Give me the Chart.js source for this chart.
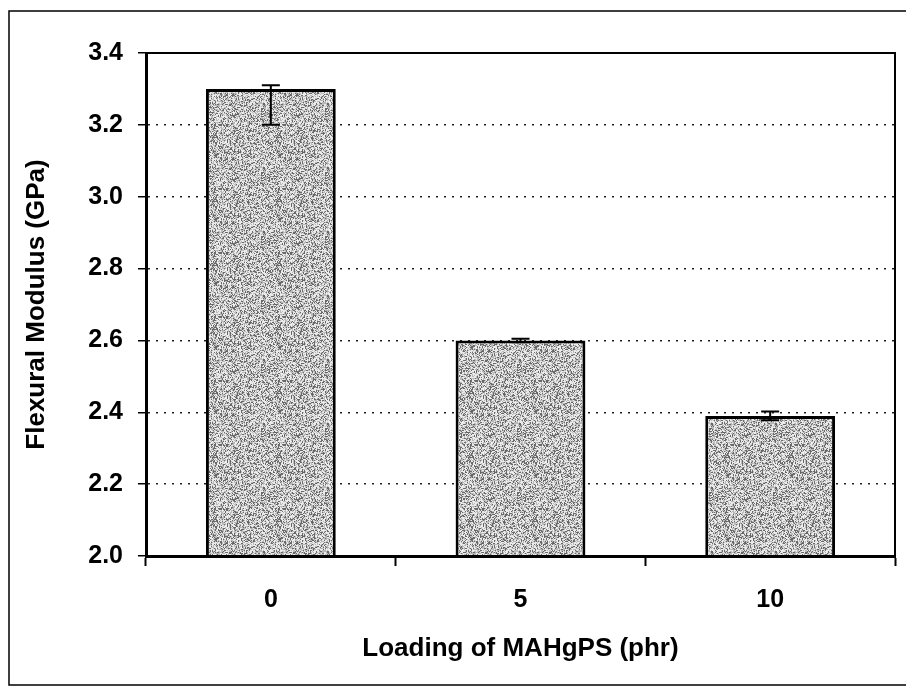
<!DOCTYPE html>
<html>
<head>
<meta charset="utf-8">
<script src="https://cdn.jsdelivr.net/npm/chart.js@4.4.1/dist/chart.umd.min.js"></script>
<style>
  html, body { margin: 0; padding: 0; background: #fff; }
  #wrap { width: 906px; height: 688px; }
</style>
</head>
<body>
<div id="wrap"><canvas id="modulus"></canvas></div>
<script>
// data
var loadings = ['0', '5', '10'];
var modulus = [3.30, 2.60, 2.39];
var errLow = [3.20, 2.595, 2.378];
var errHigh = [3.31, 2.605, 2.402];
var yTicks = [2.0, 2.2, 2.4, 2.6, 2.8, 3.0, 3.2, 3.4];

// grainy gray fill like the printed bars (fixed hash, purely cosmetic)
function grainPattern() {
    var c = document.createElement('canvas');
    c.width = 64; c.height = 64;
    var g = c.getContext('2d');
    var img = g.createImageData(64, 64);
    for (var i = 0; i < 64 * 64; i++) {
        var h = Math.imul(i + 17, 0x9E3779B1) >>> 0;
        h = Math.imul(h ^ (h >>> 15), 0x85EBCA6B) >>> 0;
        h = (h ^ (h >>> 13)) >>> 0;
        var v = (h & 255) < 70 ? 105 : ((h >>> 8) & 255) < 140 ? 235 : 185;
        img.data[i * 4] = v; img.data[i * 4 + 1] = v; img.data[i * 4 + 2] = v; img.data[i * 4 + 3] = 255;
    }
    g.putImageData(img, 0, 0);
    return g.createPattern(c, 'repeat');
}

var frames = {
    id: 'frames',
    afterDraw: function (chart) {
        var ctx = chart.ctx, a = chart.chartArea;
        ctx.save();
        ctx.strokeStyle = '#000';
        ctx.lineWidth = 1.5;
        ctx.strokeRect(9, 11, 910, 674);
        ctx.lineWidth = 2;
        ctx.strokeRect(a.left, a.top, a.right - a.left, a.bottom - a.top);
        ctx.restore();
    }
};

var errorBars = {
    id: 'errorBars',
    afterDatasetsDraw: function (chart) {
        var ctx = chart.ctx, y = chart.scales.y;
        var meta = chart.getDatasetMeta(0);
        ctx.save();
        ctx.strokeStyle = '#000';
        ctx.lineWidth = 2;
        meta.data.forEach(function (bar, i) {
            var x = bar.x, y1 = y.getPixelForValue(errLow[i]), y2 = y.getPixelForValue(errHigh[i]);
            ctx.beginPath();
            ctx.moveTo(x, y1); ctx.lineTo(x, y2);
            ctx.moveTo(x - 9, y2); ctx.lineTo(x + 9, y2);
            ctx.moveTo(x - 9, y1); ctx.lineTo(x + 9, y1);
            ctx.stroke();
        });
        ctx.restore();
    }
};

var font = 'Liberation Sans, Arial, sans-serif';

var ctx = document.getElementById('modulus').getContext('2d');
var chart = new Chart(ctx, {
    type: 'bar',
    data: {
        labels: loadings,
        datasets: [{
            data: modulus,
            backgroundColor: grainPattern(),
            borderColor: '#000',
            borderWidth: 3,
            borderSkipped: false,
            categoryPercentage: 1,
            barPercentage: 0.52
        }]
    },
    options: {
        responsive: true,
        maintainAspectRatio: false,
        animation: false,
        layout: { padding: { top: 53, right: 11, left: 0, bottom: 0 } },
        plugins: { legend: { display: false }, tooltip: { enabled: false } },
        scales: {
            x: {
                afterFit: function (s) { s.height = 132; },
                grid: { drawOnChartArea: false, drawTicks: true, tickLength: 10, tickColor: '#000', tickWidth: 2, offset: true },
                border: { display: true, color: '#000', width: 3 },
                ticks: { color: '#000', padding: 19, font: { family: font, size: 25, weight: 'bold' } },
                title: {
                    display: true, text: 'Loading of MAHgPS (phr)', color: '#000',
                    font: { family: font, size: 26, weight: 'bold' },
                    padding: { top: 0, bottom: 24 }
                }
            },
            y: {
                min: 2.0,
                max: 3.4,
                afterFit: function (s) { s.width = 146; },
                afterBuildTicks: function (s) { s.ticks = yTicks.map(function (v) { return { value: v }; }); },
                grid: {
                    color: function (c) { return c.index === 0 || c.index === yTicks.length - 1 ? 'rgba(0,0,0,0)' : '#222'; },
                    lineWidth: 1.5,
                    tickColor: '#000',
                    tickWidth: 1.5,
                    tickLength: 8,
                    tickBorderDash: []
                },
                border: { display: true, color: '#000', width: 3, dash: [2, 6] },
                ticks: {
                    color: '#000', padding: 15,
                    font: { family: font, size: 25, weight: 'bold' },
                    callback: function (v) { return Number(v).toFixed(1); }
                },
                title: {
                    display: true, text: 'Flexural Modulus (GPa)', color: '#000',
                    font: { family: font, size: 26, weight: 'bold' },
                    padding: { top: 21, bottom: 0 }
                }
            }
        }
    },
    plugins: [errorBars, frames]
});
</script>
</body>
</html>
